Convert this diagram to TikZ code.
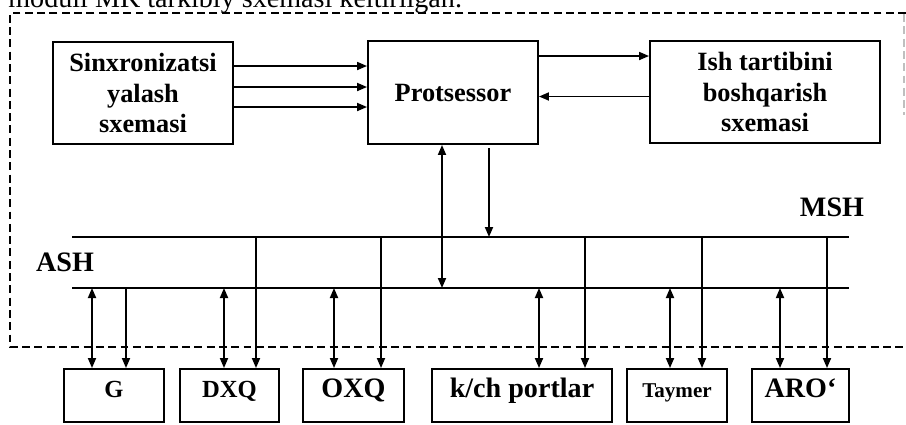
\documentclass[tikz,border=0pt]{standalone}
\usepackage{fontspec}
\setmainfont{Liberation Serif}
\usetikzlibrary{arrows.meta,positioning}

\tikzset{
  blk/.style={draw, line width=1.1pt, inner sep=0pt, align=center,
    font=\bfseries\fontsize{15}{17.2}\selectfont},
  dev/.style={blk, minimum height=1.06cm, text height=10pt, text depth=8pt},
  arr/.style={line width=1pt, -{Triangle[length=2mm,width=1.6mm]}},
  dbl/.style={line width=1pt,
    {Triangle[length=2mm,width=1.6mm]}-{Triangle[length=2mm,width=1.6mm]}},
  bus/.style={line width=0.9pt},
  frame/.style={line width=1.1pt, dash pattern=on 4.5pt off 2.5pt},
  lbl/.style={font=\bfseries\fontsize{16}{19}\selectfont, inner sep=0pt}
}

\begin{document}
\begin{tikzpicture}[x=0.02cm, y=-0.02cm]
  \useasboundingbox (0,0) rectangle (906,424);

  % line of the page above the picture
  \node[anchor=base west, inner sep=0pt, font=\fontsize{16}{19}\selectfont]
    (cap) at (8,7.5) {moduli MK tarkibiy sxemasi keltirilgan.};

  % MK frame
  \draw[frame] (906,13) -- (10,13) -- (10,347) -- (906,347);
  \draw[frame, gray!50, line width=0.6pt] (904,14) -- (904,115);

  % upper blocks
  \node[blk, minimum width=3.6cm, minimum height=2.04cm] (sinx) at (143,93)
    {Sinxronizatsi\\yalash\\sxemasi};
  \node[blk, minimum width=3.4cm, minimum height=2.06cm] (prots) at (453,92.5)
    {Protsessor};
  \node[blk, minimum width=4.6cm, minimum height=2.04cm] (ish) at (765,92)
    {Ish tartibini\\boshqarish\\sxemasi};

  \draw[arr] ([yshift=0.54cm]sinx.east) -- ([yshift=0.54cm]sinx.east -| prots.west);
  \draw[arr] ([yshift=0.12cm]sinx.east) -- ([yshift=0.12cm]sinx.east -| prots.west);
  \draw[arr] ([yshift=-0.28cm]sinx.east) -- ([yshift=-0.28cm]sinx.east -| prots.west);
  \draw[arr] ([yshift=0.73cm]prots.east) -- ([yshift=0.73cm]prots.east -| ish.west);
  \draw[arr] ([yshift=-0.09cm]ish.west) -- ([yshift=-0.09cm]ish.west -| prots.east);

  % buses
  \coordinate (mshL) at (72,237);
  \coordinate (mshR) at (849,237);
  \coordinate (ashL) at (72,288);
  \coordinate (ashR) at (849,288);
  \draw[bus] (mshL) -- (mshR);
  \draw[bus] (ashL) -- (ashR);
  \node[lbl] (msh) at (832,207) {MSH};
  \node[lbl] (ash) at (65,262) {ASH};

  \coordinate (pA) at (442,288);
  \coordinate (pT) at (489,148);
  \coordinate (pM) at (489,237);
  \draw[dbl] (pA |- prots.south) -- (pA);
  \draw[arr] (pT) -- (pM);

  % devices
  \node[dev, minimum width=2cm, font=\bfseries\fontsize{14}{16}\selectfont] (g) at (114,395.5) {G};
  \node[dev, minimum width=1.98cm, font=\bfseries\fontsize{14}{16}\selectfont] (dxq) at (229.5,395.5) {DXQ};
  \node[dev, minimum width=2.02cm, font=\bfseries\fontsize{16}{19}\selectfont] (oxq) at (353.5,395.5) {OXQ};
  \node[dev, minimum width=3.6cm, font=\bfseries\fontsize{16}{19}\selectfont] (kch) at (522,395.5) {k/ch portlar};
  \node[dev, minimum width=2cm, font=\bfseries\fontsize{12}{14}\selectfont] (tay) at (677,395.5) {Taymer};
  \node[dev, minimum width=1.94cm, font=\bfseries\fontsize{16}{19}\selectfont] (aro) at (800.5,395.5) {ARO‘};

  \coordinate (g-a) at (92,288);
  \coordinate (g-b) at (126,288);
  \draw[dbl] (g-a) -- (g-a |- g.north);
  \draw[arr] (g-b) -- (g-b |- g.north);
  \foreach \n/\a/\m in {dxq/224/256, oxq/334/381, kch/539/585, tay/670/702, aro/780/827} {
    \coordinate (\n-a) at (\a,288);
    \coordinate (\n-m) at (\m,237);
    \draw[dbl] (\n-a) -- (\n-a |- \n.north);
    \draw[arr] (\n-m) -- (\n-m |- \n.north);
  }
\end{tikzpicture}
\end{document}
